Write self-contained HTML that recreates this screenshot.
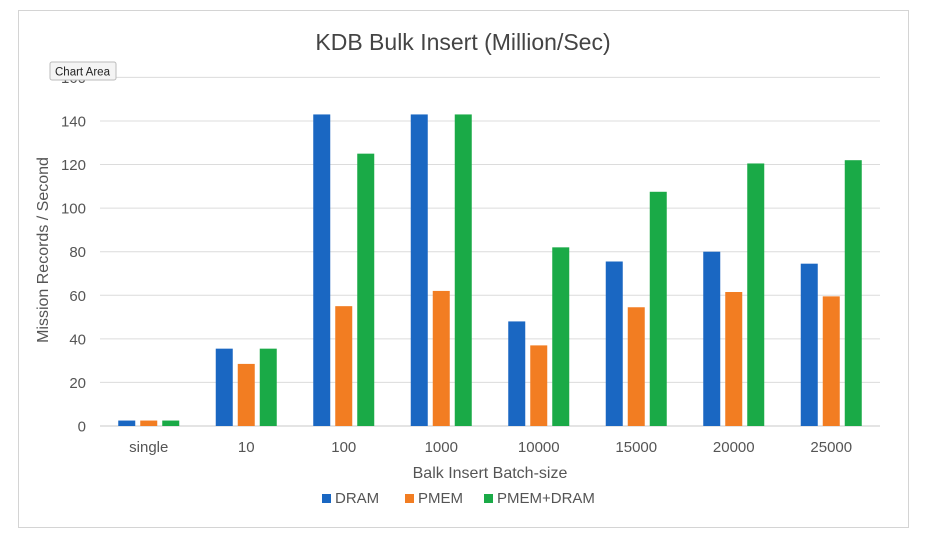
<!DOCTYPE html>
<html><head><meta charset="utf-8"><style>
body{margin:0;background:#fff;font-family:"Liberation Sans",Arial,sans-serif}
svg text{font-family:"Liberation Sans",Arial,sans-serif}
</style></head><body>
<svg id="c" width="928" height="537" viewBox="0 0 928 537" xmlns="http://www.w3.org/2000/svg">
<rect x="18.5" y="10.5" width="890" height="517" fill="#fff" stroke="#d4d4d4"/>
<text x="463" y="50" font-size="23" fill="#444" text-anchor="middle">KDB Bulk Insert (Million/Sec)</text>
<g id="grid"></g><g id="bars"></g><g id="xl"></g>
<text transform="translate(48,250) rotate(-90)" font-size="16" fill="#555" text-anchor="middle">Mission Records / Second</text>
<text x="490" y="478" font-size="16" fill="#555" text-anchor="middle">Balk Insert Batch-size</text>
<g id="legend"></g>
<g>
<rect x="50" y="62" width="66" height="18" rx="2" fill="#f4f4f4" stroke="#bbb"/>
<text x="55" y="75.5" font-size="11.5" fill="#222">Chart Area</text>
</g>
</svg>
<script>
const categories=["single","10","100","1000","10000","15000","20000","25000"];
const dram=[2.5,35.5,143,143,48,75.5,80,74.5];
const pmem=[2.5,28.5,55,62,37,54.5,61.5,59.5];
const pmemDram=[2.5,35.5,125,143,82,107.5,120.5,122];
const yTicks=[0,20,40,60,80,100,120,140,160];
const seriesNames=["DRAM","PMEM","PMEM+DRAM"];
const colors=["#1a67c2","#f27d22","#1aaa47"];
const NS="http://www.w3.org/2000/svg";
const x0=100,x1=880,yBase=426,yTop=77.4,yMax=160;
const y=v=>yBase-(v/yMax)*(yBase-yTop);
const bw=(x1-x0)/categories.length;
const xc=i=>x0+bw*(i+0.5);
function mk(t,a,p){const e=document.createElementNS(NS,t);for(const k in a)e.setAttribute(k,a[k]);p.appendChild(e);return e;}
const grid=document.getElementById('grid');
yTicks.forEach(t=>{
 const l=mk('line',{x1:x0,x2:x1,y1:y(t),y2:y(t),stroke:t===0?'#c8c8c8':'#dcdcdc','stroke-width':1},grid);
 
 
 const tx=mk('text',{x:86,y:y(t)+5.5,'font-size':15,fill:'#555','text-anchor':'end'},grid);
 tx.textContent=t;
 
 
});
const bars=document.getElementById('bars');
const series=[dram,pmem,pmemDram];
const barW=17,gap=5;
series.forEach((s,si)=>{
 s.forEach((v,i)=>{
  const bx=xc(i)+(si-1)*(barW+gap)-barW/2;
  const r=mk('rect',{x:bx,y:y(v),width:barW,height:yBase-y(v),fill:colors[si]},bars);
  
  
 });
});
const xl=document.getElementById('xl');
categories.forEach((c,i)=>{
 const t=mk('text',{x:xc(i),y:452,'font-size':15,fill:'#555','text-anchor':'middle'},xl);
 t.textContent=c;
 
 
});
const lg=document.getElementById('legend');
const lx=[322,405,484];
seriesNames.forEach((n,i)=>{
 const g=mk('g',{},lg);
 
 
 mk('rect',{x:lx[i],y:494,width:9,height:9,fill:colors[i]},g);
 const t=mk('text',{x:lx[i]+13,y:503,'font-size':15,fill:'#555'},g);
 t.textContent=n;
});
</script>
</body></html>
